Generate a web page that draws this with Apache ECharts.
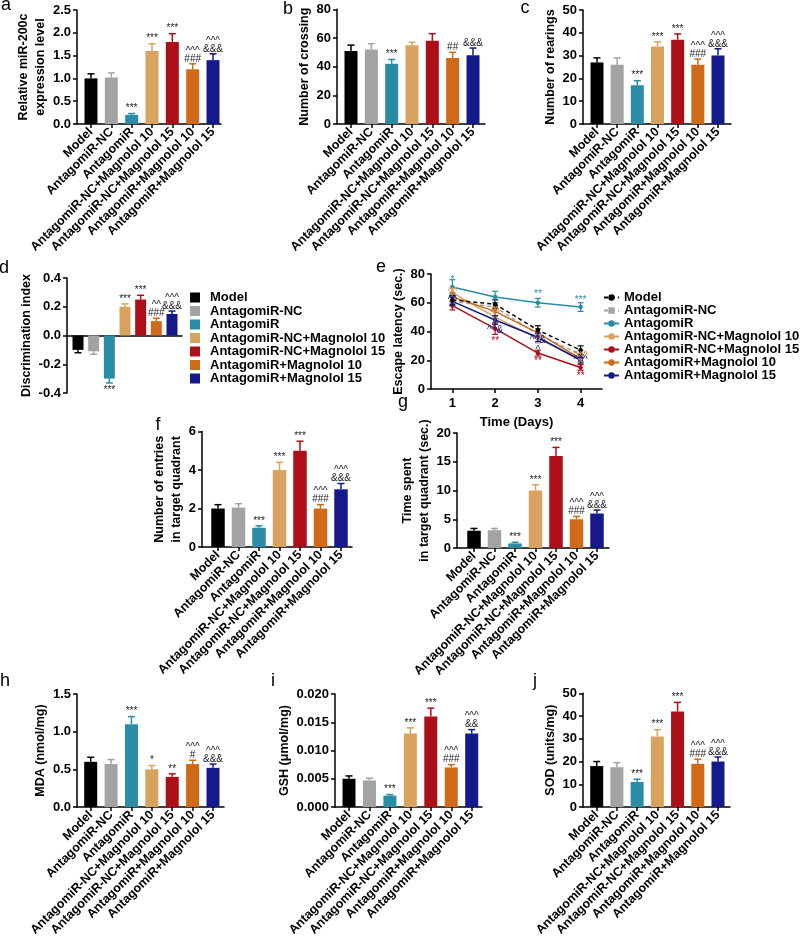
<!DOCTYPE html>
<html><head><meta charset="utf-8">
<script src="https://cdn.jsdelivr.net/npm/echarts@6/dist/echarts.min.js"></script>
<style>html,body{margin:0;padding:0;background:#fff}#c{width:800px;height:945px}</style>
</head><body><div id="c"></div>
<script>
// ---------- DATA ----------
const groups = ['Model','AntagomiR-NC','AntagomiR','AntagomiR-NC+Magnolol 10','AntagomiR-NC+Magnolol 15','AntagomiR+Magnolol 10','AntagomiR+Magnolol 15'];

// a: relative miR-200c
const mirValues = [1.0, 1.02, 0.2, 1.6, 1.8, 1.2, 1.4];
const mirErrors = [0.1, 0.1, 0.03, 0.16, 0.18, 0.12, 0.14];
const mirMarks  = ['', '', '***', '***', '***', '^^^\n###', '^^^\n&&&'];
// b: number of crossing
const crossValues = [51, 52, 42, 55, 58, 46, 48];
const crossErrors = [4, 4, 3, 2, 5, 4, 5];
const crossMarks  = ['', '', '***', '', '', '##', '&&&'];
// c: number of rearings
const rearValues = [27, 26, 17, 34, 37, 26, 30];
const rearErrors = [2, 3, 2, 2, 2.5, 2.5, 3];
const rearMarks  = ['', '', '***', '***', '***', '^^^\n###', '^^^\n&&&'];
// d: discrimination index
const discValues = [-0.10, -0.11, -0.30, 0.20, 0.25, 0.10, 0.15];
const discErrors = [0.02, 0.02, 0.03, 0.02, 0.03, 0.02, 0.02];
const discMarks  = ['', '', '***', '***', '***', '^^\n###', '^^^\n&&&'];
// e: escape latency by day
const days = ['1', '2', '3', '4'];
const latModel = [62, 59, 41, 27];
const latNC    = [61, 57, 38, 24];
const latAnt   = [71, 64, 60, 57];
const latNC10  = [67, 50, 35, 21];
const latNC15  = [58, 42, 25, 15];
const latA10   = [64, 54, 39, 21];
const latA15   = [61, 48, 36, 20];
const errModel = [3, 3, 3, 3];
const errNC    = [3, 3, 3, 3];
const errAnt   = [5, 4, 3, 3];
const errNC10  = [3, 4, 3, 2];
const errNC15  = [3, 4, 2, 2];
const errA10   = [3, 3, 3, 2];
const errA15   = [3, 3, 3, 2];
// e: significance notes (day, latency, text, group index)
const eNoteDay   = [1, 3, 4, 2, 3, 4, 0.82, 0.8, 1.82, 2.2, 2.8, 2.72, 3.78, 4.25, 4.16];
const eNoteVal   = [76, 66, 62, 33, 19, 9, 67, 62, 53, 41, 34, 27, 20, 23, 18];
const eNoteText  = ['*', '**', '***', '**', '**', '**', '^^', '^^', '^^', '^^&', '^^&', '^', '^^^', '^^^', '*'];
const eNoteGroup = [2, 2, 2, 4, 4, 4, 3, 6, 5, 6, 6, 6, 6, 5, 1];
// f: entries in target quadrant
const entryValues = [2.0, 2.05, 1.0, 4.0, 5.0, 2.0, 3.0];
const entryErrors = [0.2, 0.2, 0.1, 0.4, 0.5, 0.2, 0.3];
const entryMarks  = ['', '', '***', '***', '***', '^^^\n###', '^^^\n&&&'];
// g: time in target quadrant
const timeValues = [3.0, 3.1, 0.8, 10, 16, 5.0, 6.0];
const timeErrors = [0.4, 0.3, 0.2, 1.0, 1.5, 0.5, 0.6];
const timeMarks  = ['', '', '***', '***', '***', '^^^\n###', '^^^\n&&&'];
// h: MDA
const mdaValues = [0.60, 0.57, 1.10, 0.50, 0.40, 0.57, 0.52];
const mdaErrors = [0.06, 0.06, 0.10, 0.05, 0.04, 0.05, 0.05];
const mdaMarks  = ['', '', '***', '*', '**', '^^^\n#', '^^^\n&&&'];
// i: GSH
const gshValues = [0.005, 0.0047, 0.002, 0.013, 0.016, 0.007, 0.013];
const gshErrors = [0.0005, 0.0004, 0.0002, 0.001, 0.0015, 0.0005, 0.0007];
const gshMarks  = ['', '', '***', '***', '***', '^^^\n###', '^^^\n&&'];
// j: SOD
const sodValues = [18, 17.5, 11, 31, 42, 19, 20];
const sodErrors = [2, 2, 1.2, 3, 4, 2, 2];
const sodMarks  = ['', '', '***', '***', '***', '^^^\n###', '^^^\n&&&'];

// ---------- STYLE / LAYOUT ----------
const FONT = '"Liberation Sans", Arial, sans-serif';
const colors = ['#000000', '#a3a3a3', '#2b8ca6', '#d8a25f', '#ad0f18', '#cf6a18', '#14198c'];
const AX = {color: '#000', width: 1.5};
const groupIdx = groups.map((g, i) => i);

const option = {animation: false, backgroundColor: '#fff', grid: [], xAxis: [], yAxis: [], series: [], legend: [], graphic: []};

function yAxisCfg(gi, p) {
  return {gridIndex: gi, type: 'value', min: p.y[0], max: p.y[1], interval: p.y[2],
    axisLine: {show: true, onZero: false, lineStyle: AX}, axisTick: {show: true, length: 4, lineStyle: AX},
    axisLabel: {color: '#000', fontSize: 13, fontWeight: 'bold', fontFamily: FONT, margin: 6,
      formatter: v => Number(v).toFixed(p.dec)},
    splitLine: {show: false},
    name: p.title, nameLocation: 'middle', nameRotate: 90, nameGap: p.gap,
    nameTextStyle: {color: '#000', fontSize: 12.5, fontWeight: 'bold', fontFamily: FONT, lineHeight: 17}};
}

function errorSeries(gi, values, errors, marks) {
  return {type: 'custom', xAxisIndex: gi, yAxisIndex: gi, z: 4, clip: false, silent: true,
    encode: {x: 0, y: 1},
    data: values.map((v, i) => [i, v, errors[i]]),
    renderItem: (params, api) => {
      const i = api.value(0), v = api.value(1), e = api.value(2);
      const dir = v < 0 ? -1 : 1;
      const p0 = api.coord([i, v]);
      const p1 = api.coord([i, v + dir * e]);
      const c = colors[i];
      const ch = [
        {type: 'line', shape: {x1: p0[0], y1: p0[1], x2: p1[0], y2: p1[1]}, style: {stroke: c, lineWidth: 1.5}},
        {type: 'line', shape: {x1: p1[0] - 3.5, y1: p1[1], x2: p1[0] + 3.5, y2: p1[1]}, style: {stroke: c, lineWidth: 1.5}}
      ];
      const m = marks[params.dataIndex];
      if (m) ch.push({type: 'text', x: p1[0], y: dir > 0 ? p1[1] - 1 : p1[1] + 3,
        style: {text: m, fill: '#222', fontSize: 10, fontFamily: FONT, lineHeight: 8,
          align: 'center', verticalAlign: dir > 0 ? 'bottom' : 'top'}});
      return {type: 'group', children: ch};
    }};
}

// p.px = [yAxis x, first bar centre x, last bar centre x, x-axis end x]; p.vy = [top y, bottom y]
function addBarPanel(p) {
  const gi = option.grid.length;
  const [ax, c0, c6, xe] = p.px;
  const step = (c6 - c0) / 6;
  option.grid.push({left: ax, top: p.vy[0], width: xe - ax, height: p.vy[1] - p.vy[0], containLabel: false, outerBoundsMode: 'none'});
  const showX = p.xLabels !== false;
  option.xAxis.push({gridIndex: gi, type: 'value', min: -(c0 - ax) / step, max: 6 + (xe - c6) / step,
    axisLine: {show: true, onZero: !showX, lineStyle: AX},
    axisTick: {show: showX, customValues: groupIdx, length: 4, lineStyle: AX},
    axisLabel: {show: showX, customValues: groupIdx, formatter: v => groups[Math.round(v)] || '',
      rotate: 45, margin: 6, color: '#000', fontSize: 12.5, fontWeight: 'bold', fontFamily: FONT},
    splitLine: {show: false}});
  option.yAxis.push(yAxisCfg(gi, p));
  option.series.push({type: 'bar', name: 'bars' + gi, xAxisIndex: gi, yAxisIndex: gi, barWidth: p.bw, silent: true,
    data: p.values.map((v, i) => ({value: [i, v], itemStyle: {color: colors[i]}}))});
  option.series.push(errorSeries(gi, p.values, p.errors, p.marks));
  return gi;
}

// a, b, c
addBarPanel({values: mirValues, errors: mirErrors, marks: mirMarks, title: 'Relative miR-200c\nexpression level',
  px: [77, 91, 213, 221], vy: [10, 124], gap: 13, y: [0, 2.5, 0.5], dec: 1, bw: 13});
addBarPanel({values: crossValues, errors: crossErrors, marks: crossMarks, title: 'Number of crossing',
  px: [337, 351, 473, 485], vy: [9.3, 124], gap: 18, y: [0, 80, 20], dec: 0, bw: 13});
addBarPanel({values: rearValues, errors: rearErrors, marks: rearMarks, title: 'Number of rearings',
  px: [583, 597, 718, 731], vy: [10, 124], gap: 20, y: [0, 50, 10], dec: 0, bw: 13});
// d
const dIdx = addBarPanel({values: discValues, errors: discErrors, marks: discMarks, title: 'Discrimination index',
  px: [67, 78, 172, 182], vy: [278, 393], gap: 26, y: [-0.4, 0.4, 0.2], dec: 1, bw: 11, xLabels: false});
groups.forEach((g, k) => option.series.push({type: 'scatter', name: g, xAxisIndex: dIdx, yAxisIndex: dIdx, data: [],
  itemStyle: {color: colors[k], opacity: 1}}));
option.legend.push({left: 190, top: 291, orient: 'vertical', padding: 0, itemWidth: 10, itemHeight: 10, itemGap: 0.5,
  selectedMode: false, icon: 'rect', data: groups, itemStyle: {opacity: 1},
  textStyle: {color: '#000', fontSize: 13, fontWeight: 'bold', fontFamily: FONT, lineHeight: 12, padding: [0, 0, 0, 5]}});

// e
(function () {
  const gi = option.grid.length;
  option.grid.push({left: 431, top: 274, width: 171, height: 115, containLabel: false, outerBoundsMode: 'none'});
  option.xAxis.push({gridIndex: gi, type: 'category', data: days, boundaryGap: true,
    axisLine: {show: true, lineStyle: AX}, axisTick: {show: true, alignWithLabel: true, length: 4, lineStyle: AX},
    axisLabel: {color: '#000', fontSize: 13, fontWeight: 'bold', fontFamily: FONT, margin: 8},
    splitLine: {show: false},
    name: 'Time (Days)', nameLocation: 'middle', nameGap: 27,
    nameTextStyle: {color: '#000', fontSize: 13, fontWeight: 'bold', fontFamily: FONT}});
  option.yAxis.push(yAxisCfg(gi, {y: [0, 80, 20], dec: 0, title: 'Escape latency (sec.)', gap: 15}));
  const lat = [latModel, latNC, latAnt, latNC10, latNC15, latA10, latA15];
  const err = [errModel, errNC, errAnt, errNC10, errNC15, errA10, errA15];
  const names = groups.map(g => g + '\u200b');
  lat.forEach((vals, s) => {
    option.series.push({type: 'line', name: names[s], xAxisIndex: gi, yAxisIndex: gi, data: vals, silent: true,
      symbol: s === 1 ? 'rect' : 'circle', symbolSize: 4.5, z: 3 + (s === 0 ? 2 : 0),
      lineStyle: {color: colors[s], width: 1.5, type: s < 2 ? [4, 3] : 'solid'}, itemStyle: {color: colors[s]}});
  });
  const flat = [];
  lat.forEach((vals, s) => vals.forEach((v, d) => flat.push([d, v, err[s][d], s])));
  option.series.push({type: 'custom', xAxisIndex: gi, yAxisIndex: gi, z: 4, silent: true, clip: false,
    encode: {x: 0, y: 1}, data: flat,
    renderItem: (params, api) => {
      const d = api.value(0), v = api.value(1), e = api.value(2), s = api.value(3);
      const a = api.coord([d, v - e]), b = api.coord([d, v + e]);
      const st = {stroke: colors[s], lineWidth: 1.2};
      return {type: 'group', children: [
        {type: 'line', shape: {x1: a[0], y1: a[1], x2: b[0], y2: b[1]}, style: st},
        {type: 'line', shape: {x1: a[0] - 3, y1: a[1], x2: a[0] + 3, y2: a[1]}, style: st},
        {type: 'line', shape: {x1: b[0] - 3, y1: b[1], x2: b[0] + 3, y2: b[1]}, style: st}]};
    }});
  option.series.push({type: 'custom', xAxisIndex: gi, yAxisIndex: gi, z: 6, silent: true, clip: false,
    encode: {x: 0, y: 1}, data: eNoteDay.map((d, k) => [d - 1, eNoteVal[k]]),
    renderItem: (params, api) => {
      const k = params.dataIndex;
      const p = api.coord([api.value(0), api.value(1)]);
      return {type: 'text', x: p[0], y: p[1],
        style: {text: eNoteText[k], fill: colors[eNoteGroup[k]], fontSize: 10, fontFamily: FONT, align: 'center', verticalAlign: 'middle'}};
    }});
  option.legend.push({left: 603, top: 291, orient: 'vertical', padding: 0, itemWidth: 15, itemHeight: 8, itemGap: 0,
    selectedMode: false, data: names, formatter: n => n.replace(/\u200b/g, ''),
    textStyle: {color: '#000', fontSize: 13, fontWeight: 'bold', fontFamily: FONT, lineHeight: 11}});
})();

// f, g
addBarPanel({values: entryValues, errors: entryErrors, marks: entryMarks, title: 'Number of entries\nin target quadrant',
  px: [202, 218, 341, 352], vy: [431.6, 547], gap: 6, y: [0, 6, 2], dec: 0, bw: 13.5});
addBarPanel({values: timeValues, errors: timeErrors, marks: timeMarks, title: 'Time spent\nin target quadrant (sec.)',
  px: [457, 474, 597, 609], vy: [433, 548], gap: 11, y: [0, 20, 5], dec: 0, bw: 13.5});
// h, i, j
addBarPanel({values: mdaValues, errors: mdaErrors, marks: mdaMarks, title: 'MDA (nmol/mg)',
  px: [77, 90.7, 213, 224], vy: [694, 807], gap: 23, y: [0, 1.5, 0.5], dec: 1, bw: 13});
addBarPanel({values: gshValues, errors: gshErrors, marks: gshMarks, title: 'GSH (\u03bcmol/mg)',
  px: [335, 349, 471.7, 482], vy: [694, 807], gap: 37, y: [0, 0.02, 0.005], dec: 3, bw: 13});
addBarPanel({values: sodValues, errors: sodErrors, marks: sodMarks, title: 'SOD (units/mg)',
  px: [583, 596.7, 718, 730], vy: [693.3, 807], gap: 16, y: [0, 50, 10], dec: 0, bw: 13});

// panel letters
[['a', 6, 5], ['b', 288, 9], ['c', 525, 8], ['d', 4, 268], ['e', 381, 267], ['f', 158, 425],
 ['g', 403, 402], ['h', 5, 681], ['i', 273, 681], ['j', 535, 681]].forEach(([t, x, y]) => {
  option.graphic.push({type: 'text', x: x, y: y, silent: true,
    style: {text: t, fill: '#000', fontSize: 18, fontFamily: FONT, align: 'center', verticalAlign: 'middle'}});
});

const chart = echarts.init(document.getElementById('c'), null, {renderer: 'canvas', width: 800, height: 945});
chart.setOption(option);
</script>
</body></html>
